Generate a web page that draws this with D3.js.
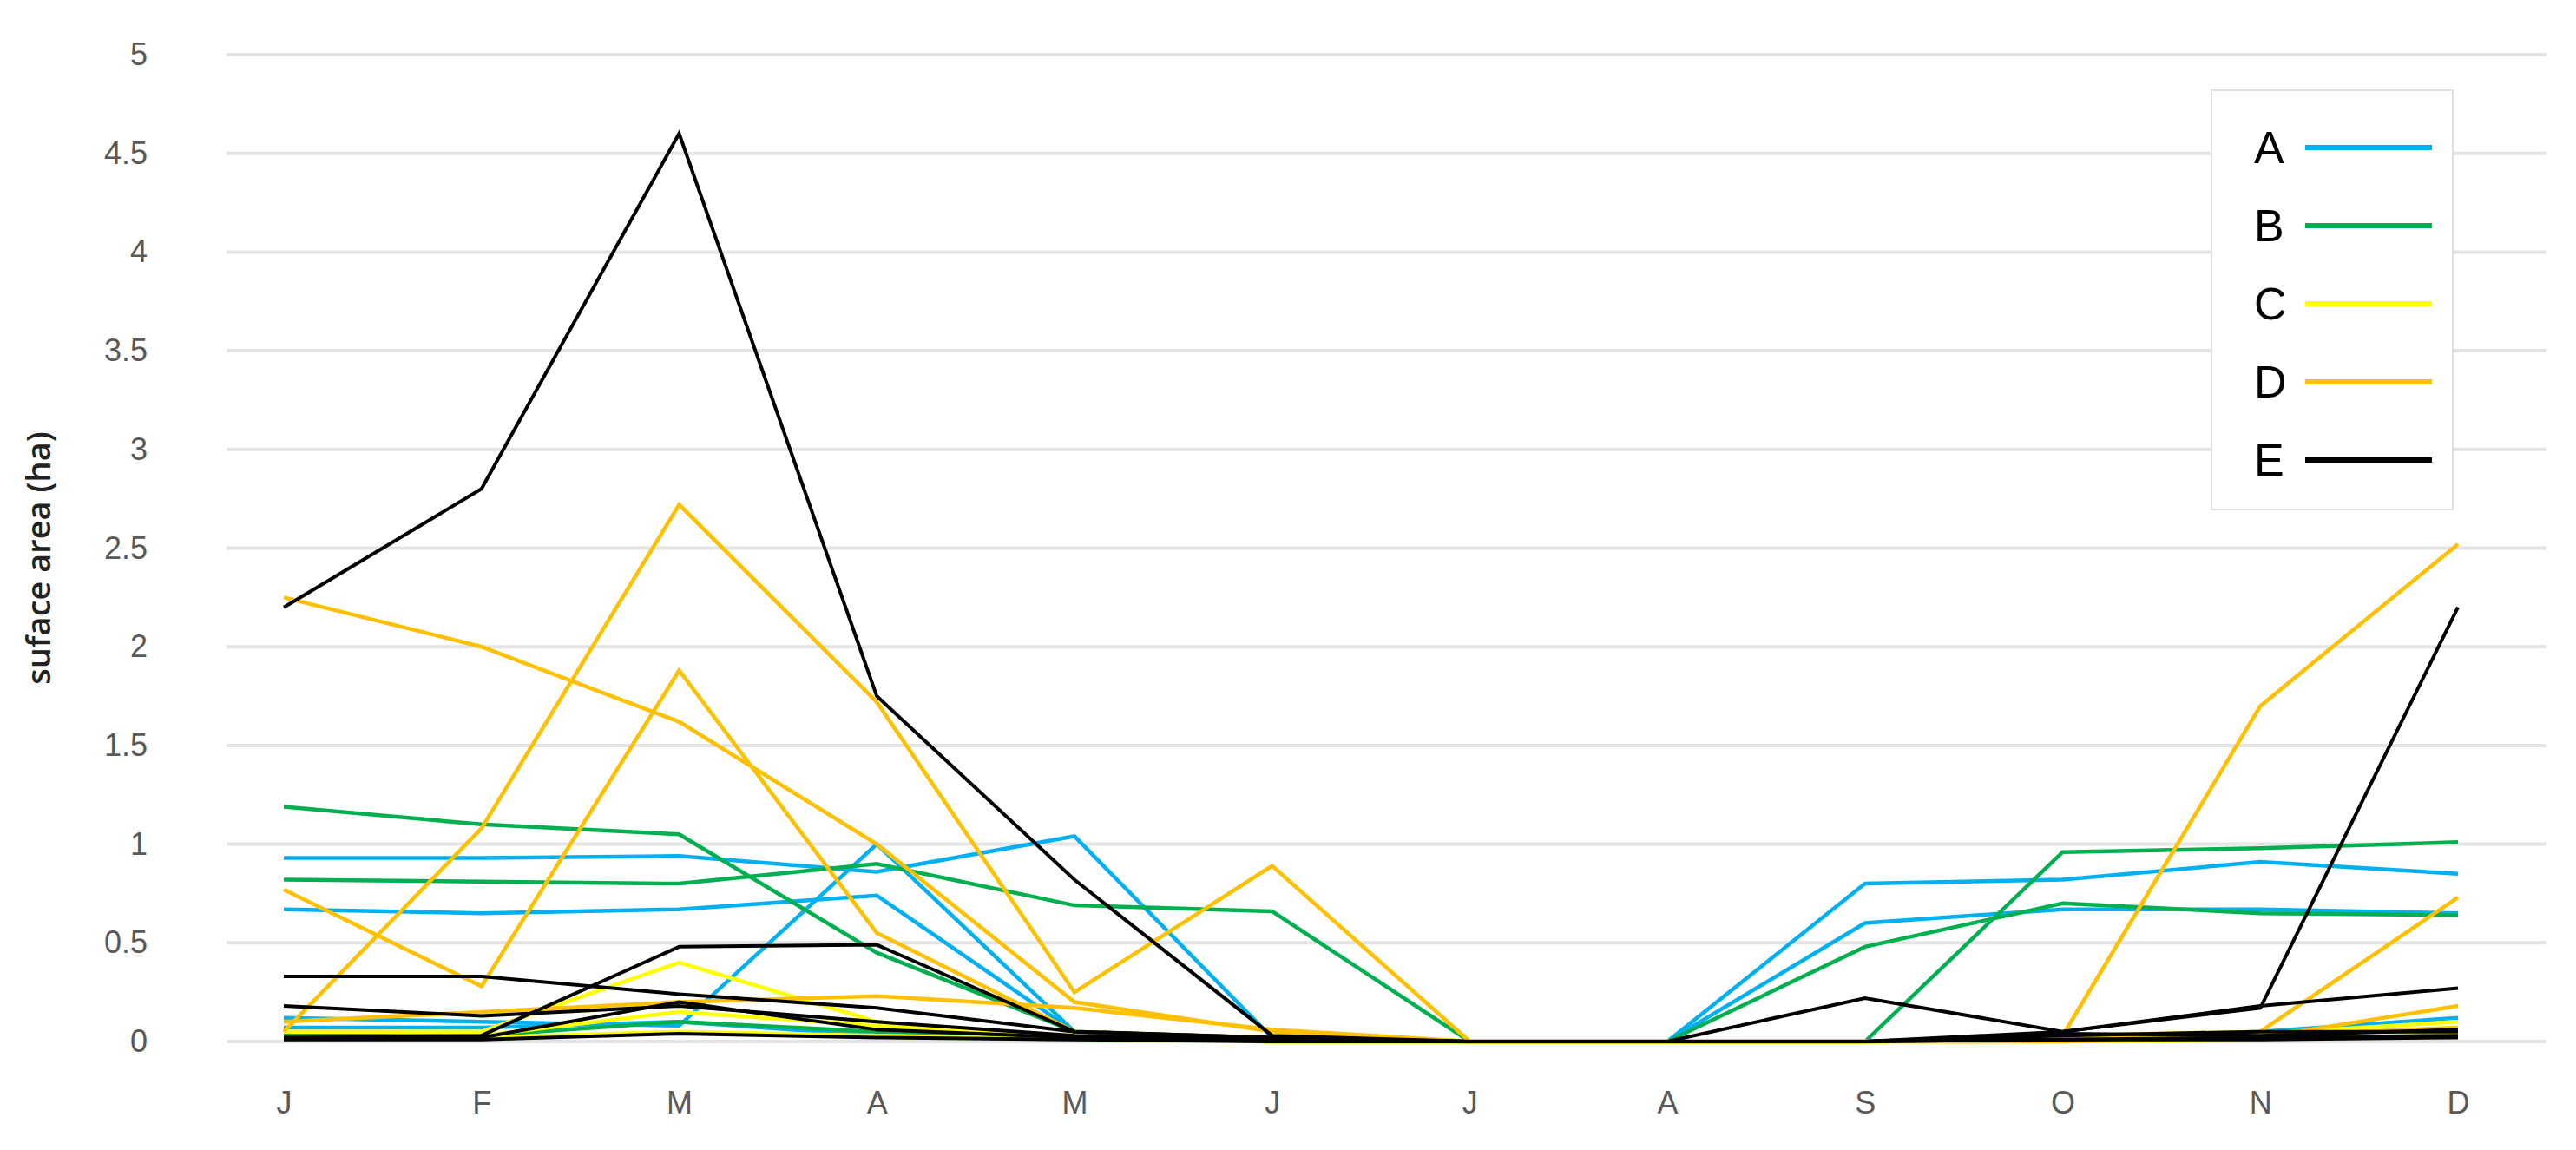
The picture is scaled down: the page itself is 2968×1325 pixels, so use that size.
<!DOCTYPE html>
<html><head><meta charset="utf-8">
<script src="https://cdn.jsdelivr.net/npm/d3@7"></script>
<style>body{margin:0;background:#fff}</style></head>
<body><svg id="c" width="2968" height="1325"></svg>
<script>
const months = ["J","F","M","A","M","J","J","A","S","O","N","D"];
const yTicks = [0,0.5,1,1.5,2,2.5,3,3.5,4,4.5,5];
const groups = ["A","B","C","D","E"];
const colors = ["#00b0f0","#00b050","#ffff00","#ffc000","#000000"];
const seriesA = [
 [0.93,0.93,0.94,0.86,1.04,0.02,0,0,0.8,0.82,0.91,0.85],
 [0.67,0.65,0.67,0.74,0.05,0.01,0,0,0.6,0.67,0.67,0.65],
 [0.12,0.1,0.08,1.0,0.05,0.01,0,0,0,0.02,0.05,0.12],
 [0.07,0.07,0.1,0.03,0.01,0,0,0,0,0.01,0.02,0.05]];
const seriesB = [
 [1.19,1.1,1.05,0.45,0.05,0.01,0,0,0,0.96,0.98,1.01],
 [0.82,0.81,0.8,0.9,0.69,0.66,0,0,0.48,0.7,0.65,0.64],
 [0.03,0.03,0.1,0.05,0.02,0,0,0,0,0.02,0.03,0.05]];
const seriesC = [
 [0.05,0.05,0.4,0.1,0.02,0,0,0,0,0.01,0.03,0.05],
 [0.02,0.03,0.15,0.08,0.03,0,0,0,0,0.01,0.04,0.1],
 [0.01,0.02,0.05,0.03,0.01,0,0,0,0,0,0.01,0.03]];
const seriesD = [
 [2.25,2.0,1.62,1.0,0.2,0.05,0,0,0,0.03,1.7,2.52],
 [0.05,1.08,2.72,1.72,0.25,0.89,0,0,0,0.03,0.05,0.73],
 [0.77,0.28,1.88,0.55,0.05,0.02,0,0,0,0,0.02,0.18],
 [0.1,0.15,0.2,0.23,0.17,0.06,0,0,0,0.02,0.03,0.07]];
const seriesE = [
 [2.2,2.8,4.6,1.75,0.82,0.03,0,0,0,0.05,0.17,2.2],
 [0.33,0.33,0.24,0.17,0.05,0.02,0,0,0.22,0.05,0.18,0.27],
 [0.18,0.13,0.18,0.1,0.03,0.01,0,0,0,0.04,0.03,0.06],
 [0.02,0.03,0.48,0.49,0.05,0.02,0,0,0,0.03,0.05,0.05],
 [0.02,0.02,0.2,0.06,0.02,0,0,0,0,0.01,0.02,0.03],
 [0.01,0.01,0.04,0.02,0.01,0,0,0,0,0.01,0.01,0.02]];
const allSeries = [seriesA,seriesB,seriesC,seriesD,seriesE];

const svg = d3.select("#c");
const x = d3.scalePoint().domain(d3.range(12)).range([327,2832]);
const y = d3.scaleLinear().domain([0,5]).range([1200,63]);

const grid = svg.append("g");
grid.selectAll("line").data(yTicks).join("line")
 .attr("x1",261).attr("x2",2934).attr("y1",d=>y(d)).attr("y2",d=>y(d))
 .attr("stroke","#e3e3e3").attr("stroke-width",4);

const yAxis = svg.append("g").attr("transform","translate(170,0)")
 .call(d3.axisLeft(y).tickValues(yTicks).tickSize(0).tickPadding(0).tickFormat(d3.format("")));
yAxis.select(".domain").remove();
yAxis.selectAll("text").attr("font-family","Liberation Sans Narrow, Liberation Sans, sans-serif")
 .attr("font-size",36).attr("fill","#595959").attr("text-anchor","end");

const xAxis = svg.append("g").attr("transform","translate(0,1270)")
 .call(d3.axisBottom(x).tickSize(0).tickPadding(0).tickFormat(i=>months[i]));
xAxis.select(".domain").remove();
xAxis.selectAll("text").attr("font-family","Liberation Sans Narrow, Liberation Sans, sans-serif")
 .attr("font-size",36).attr("fill","#595959").attr("dy","0.35em");

svg.append("text").attr("transform","translate(58,643) rotate(-90)")
 .attr("text-anchor","middle").attr("font-family","Open Sans, sans-serif")
 .attr("font-size",38).attr("font-weight","600").attr("fill","#222").text("suface area (ha)");

const line = d3.line().x((d,i)=>x(i)).y(d=>y(d));
allSeries.forEach((ser,gi)=>{
  svg.append("g").selectAll("path").data(ser).join("path")
   .attr("d",line).attr("fill","none").attr("stroke",colors[gi])
   .attr("stroke-width",gi===4?4:4.5).attr("stroke-linejoin","miter");
});

const lg = svg.append("g");
lg.append("rect").attr("x",2548).attr("y",104).attr("width",278).attr("height",483)
 .attr("fill","#fff").attr("stroke","#e0e0e0").attr("stroke-width",2);
const ly = d3.scalePoint().domain(groups).range([170,530]);
groups.forEach((g,i)=>{
  lg.append("text").attr("x",2597).attr("y",ly(g)).attr("dy","0.35em")
   .attr("font-family","Liberation Sans Narrow, Liberation Sans, sans-serif")
   .attr("font-size",52).attr("fill","#000").text(g);
  lg.append("line").attr("x1",2656).attr("x2",2802).attr("y1",ly(g)).attr("y2",ly(g))
   .attr("stroke",colors[i]).attr("stroke-width",6);
});
</script></body></html>
